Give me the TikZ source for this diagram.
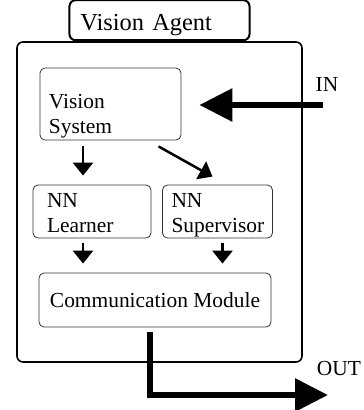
\documentclass[tikz,border=0pt]{standalone}
\usepackage{fontspec}
\setmainfont{Liberation Serif}
\usepackage{tikz}
\usetikzlibrary{arrows.meta, positioning, calc}
\definecolor{mydark}{RGB}{0,0,0}
\definecolor{myframe}{RGB}{50,50,50}
\tikzset{
  modbox/.style={rectangle, draw=myframe, rounded corners=5bp,
    line width=0.8bp, inner ysep=0pt, align=left,
    font=\fontsize{21.5}{25.5}\selectfont},
  agentbox/.style={rectangle, draw=mydark, rounded corners=6bp,
    line width=1.6bp},
  titlebox/.style={rectangle, draw=mydark, rounded corners=6bp,
    line width=2bp, align=left, inner ysep=0pt,
    font=\fontsize{24.5}{27}\selectfont},
  flow/.style={-{Triangle[length=13bp, width=20bp]}, line width=2.5bp, color=mydark},
  bigflow/.style={-{Triangle[length=33bp, width=32bp]}, line width=6bp, color=mydark},
  lbl/.style={inner sep=0pt, font=\fontsize{21.5}{25.5}\selectfont}
}
\begin{document}
\begin{tikzpicture}[x=1bp, y=-1bp]
  \useasboundingbox (0,0) rectangle (364,410);

  % agent frame and its title tab
  \node[agentbox, minimum width=285bp, minimum height=320bp] (agent) at (159.5,202) {};
  \node[titlebox, above=0pt of agent, text width=158bp, inner xsep=11bp, minimum height=40bp,
    text height=20bp, text depth=0pt] (title) {Vision Agent};

  % modules
  \node[modbox, text width=123bp, inner xsep=9bp, minimum height=72bp,
    text height=40bp, text depth=32bp] (vsys) at (110.5,104) {Vision\\System};
  \node[modbox, text width=90bp, inner xsep=14bp, minimum height=53bp,
    text height=22bp, text depth=31bp] (learner) at (92,211.5) {NN\\Learner};
  \node[modbox, text width=92bp, inner xsep=9bp, minimum height=53bp,
    text height=22bp, text depth=31bp] (superv) at (217.5,211.5) {NN\\Supervisor};
  \node[modbox, align=center, minimum width=232bp, minimum height=54bp] (comm) at (155,300) {Communication Module};

  % outside ports
  \coordinate (inend) at (323,105);
  \coordinate (outend) at (328,395);
  \node[lbl] (inlbl) at (327,84) {IN};
  \node[lbl] (outlbl) at (339,369) {OUT};

  % data flow
  \draw[bigflow, shorten >=18bp] (inend) -- (vsys.east |- inend);
  \draw[flow, shorten <=6bp, shorten >=9bp] ([xshift=-9bp]learner.north |- vsys.south) -- ([xshift=-9bp]learner.north);
  \draw[flow] ([xshift=48bp, yshift=-6bp]vsys.south) -- ([xshift=-5bp, yshift=8bp]superv.north);
  \draw[flow, shorten <=5bp, shorten >=9bp] ([xshift=-9bp]learner.south) -- ([xshift=-9bp]learner.south |- comm.north);
  \draw[flow, shorten <=5bp, shorten >=9bp] ([xshift=5bp]superv.south) -- ([xshift=5bp]superv.south |- comm.north);
  \draw[bigflow, shorten <=5bp] ([xshift=-5bp]comm.south) |- (outend);
\end{tikzpicture}
\end{document}
